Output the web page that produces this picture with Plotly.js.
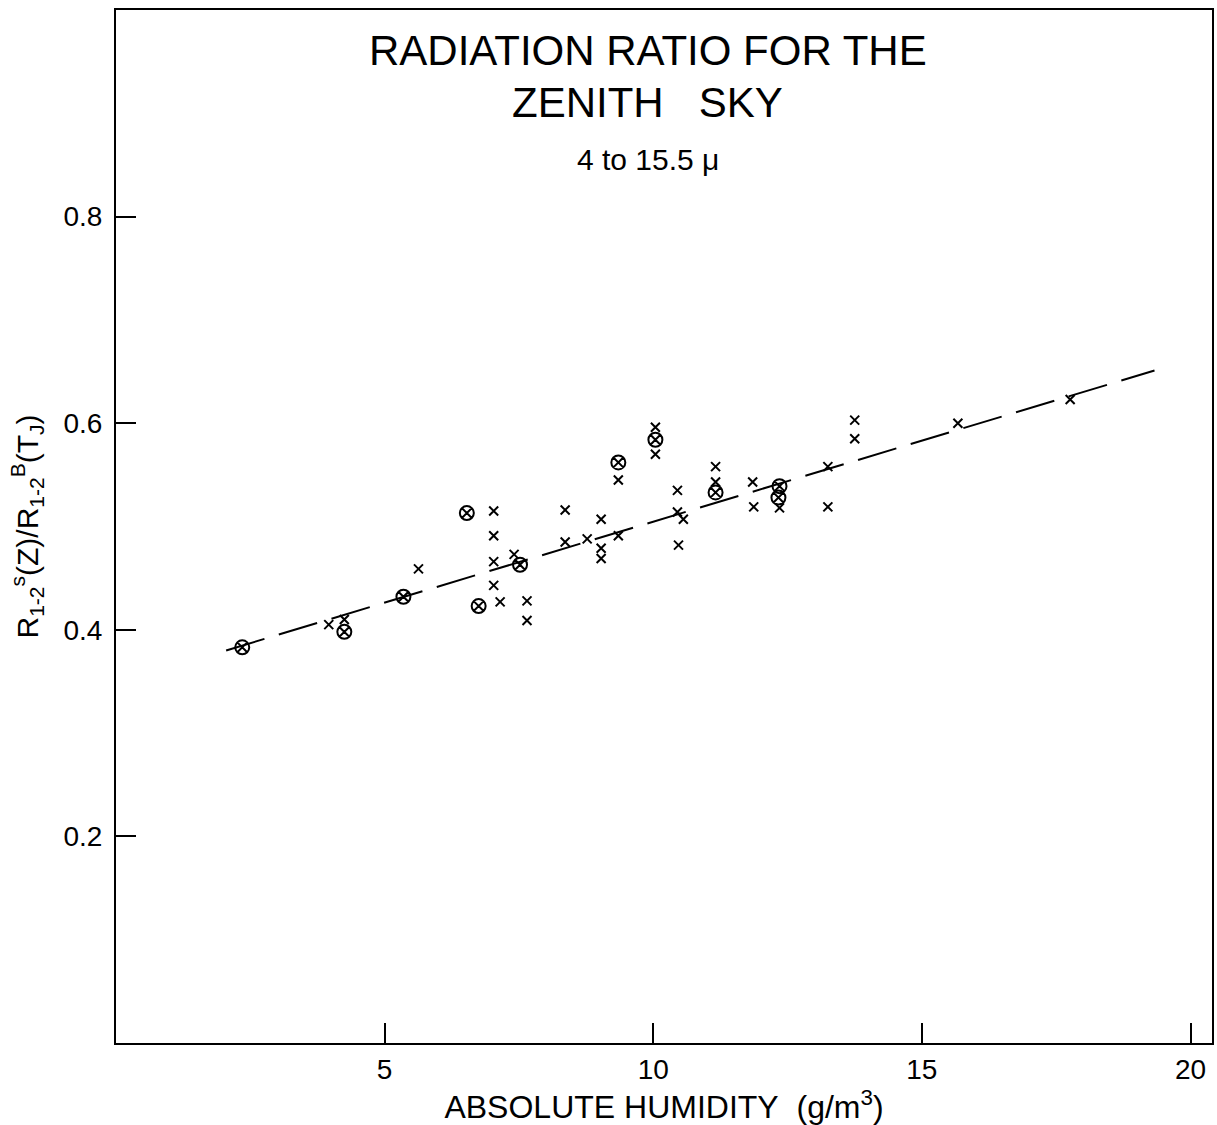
<!DOCTYPE html>
<html>
<head>
<meta charset="utf-8">
<script src="https://cdn.plot.ly/plotly-3.0.1.min.js"></script>
<style>
  html, body { margin: 0; padding: 0; background: #fff; }
  #chart { width: 1217px; height: 1125px; }
</style>
</head>
<body>
<div id="chart"></div>
<script>
// Absolute humidity (g/m^3) and radiation ratio, single observations (x)
const humidityX = [3.96, 4.25, 5.63, 7.03, 7.03, 7.03, 7.03, 7.15, 7.41, 7.65, 7.65,
  8.36, 8.36, 8.77, 9.03, 9.03, 9.03, 9.35, 9.35, 10.04, 10.04, 10.45, 10.45, 10.56,
  10.47, 11.16, 11.16, 11.85, 11.87, 12.35, 13.25, 13.25, 13.75, 13.75, 15.67, 17.76];
const ratioX = [0.405, 0.410, 0.459, 0.515, 0.491, 0.466, 0.443, 0.427, 0.473, 0.428, 0.409,
  0.516, 0.485, 0.488, 0.507, 0.479, 0.469, 0.545, 0.491, 0.596, 0.570, 0.535, 0.514, 0.507,
  0.482, 0.558, 0.543, 0.543, 0.519, 0.518, 0.558, 0.519, 0.603, 0.585, 0.600, 0.623];

// Circled observations
const humidityC = [2.35, 4.25, 5.35, 6.53, 6.75, 7.52, 9.35, 10.04, 11.16, 12.35, 12.33];
const ratioC = [0.383, 0.398, 0.432, 0.513, 0.423, 0.463, 0.562, 0.584, 0.533, 0.539, 0.528];

// Fitted line end points
const fitX = [2.05, 19.33];
const fitY = [0.380, 0.651];

const xTicks = [5, 10, 15, 20];
const yTicks = [0.2, 0.4, 0.6, 0.8];
const yTickText = ['0.2', '0.4', '0.6', '0.8'];

const titleLines = ['RADIATION RATIO FOR THE', 'ZENITH\u00A0\u00A0 SKY'];
const subtitle = '4 to 15.5 \u03bc';

const FONT = 'Liberation Sans, Arial, sans-serif';

const traces = [
  {
    x: fitX, y: fitY, type: 'scatter', mode: 'lines',
    line: { color: '#000', width: 2, dash: '40px,15px' },
    hoverinfo: 'skip'
  },
  {
    x: humidityX, y: ratioX, type: 'scatter', mode: 'markers',
    marker: { symbol: 'x-thin-open', size: 9, color: '#000', line: { color: '#000', width: 2 } }
  },
  {
    x: humidityC, y: ratioC, type: 'scatter', mode: 'markers',
    marker: { symbol: 'circle-x-open', size: 14, color: '#000', line: { color: '#000', width: 2 } }
  }
];

// Title block drawn inside the frame, near the top
const titleAnn = (text, y, size) => ({
  text: text, xref: 'paper', yref: 'paper', x: 0.485, y: y,
  xanchor: 'center', yanchor: 'middle', showarrow: false,
  font: { family: FONT, size: size, color: '#000' }
});

const layout = {
  width: 1217, height: 1125,
  margin: { l: 116, r: 5, t: 10, b: 82 },
  paper_bgcolor: '#fff', plot_bgcolor: '#fff',
  showlegend: false,
  font: { family: FONT, color: '#000' },
  annotations: [
    titleAnn(titleLines[0], 0.961, 42),
    titleAnn(titleLines[1], 0.910, 42),
    titleAnn(subtitle, 0.855, 30)
  ],
  xaxis: {
    range: [0, 20.4],
    tickvals: xTicks,
    ticks: 'inside', ticklen: 20, tickwidth: 2, tickcolor: '#000',
    showline: true, mirror: true, linecolor: '#000', linewidth: 2,
    showgrid: false, zeroline: false,
    tickfont: { family: FONT, size: 28, color: '#000' },
    title: {
      text: 'ABSOLUTE HUMIDITY\u00A0 (g/m<sup>3</sup>)',
      font: { family: FONT, size: 32, color: '#000' },
      standoff: 4
    }
  },
  yaxis: {
    range: [0, 1.0],
    tickvals: yTicks, ticktext: yTickText,
    ticks: 'inside', ticklen: 20, tickwidth: 2, tickcolor: '#000',
    ticklabelstandoff: 6,
    showline: true, mirror: true, linecolor: '#000', linewidth: 2,
    showgrid: false, zeroline: false,
    tickfont: { family: FONT, size: 28, color: '#000' },
    title: {
      text: 'R<sub>1-2</sub><sup>s</sup>(Z)/R<sub>1-2</sub><sup>B</sup>(T<sub>J</sub>)',
      font: { family: FONT, size: 30, color: '#000' },
      standoff: 16
    }
  }
};

Plotly.newPlot('chart', traces, layout, { displayModeBar: false, staticPlot: true });
</script>
</body>
</html>
